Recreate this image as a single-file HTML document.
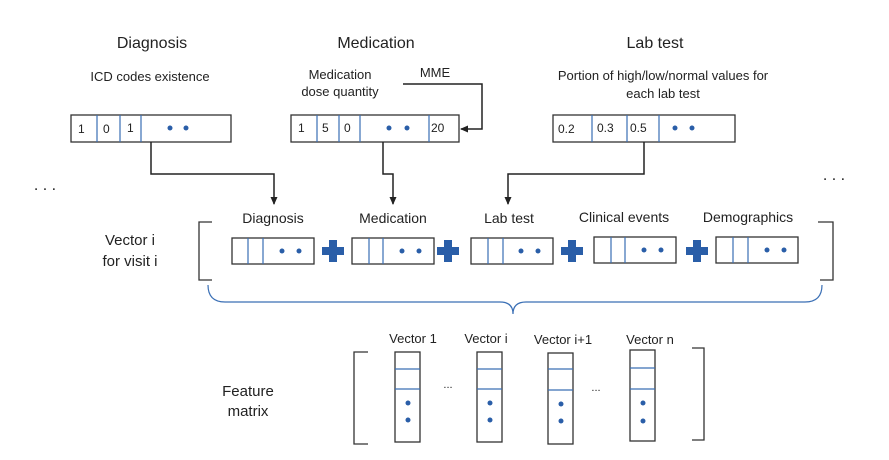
<!DOCTYPE html>
<html><head><meta charset="utf-8"><style>
body{margin:0;background:#fff}
svg{display:block;font-family:"Liberation Sans",sans-serif}
</style></head><body>
<svg width="889" height="460" viewBox="0 0 889 460">
<defs><marker id="a" markerWidth="8" markerHeight="8" refX="7" refY="4" orient="auto" markerUnits="userSpaceOnUse"><path d="M0,0.5 L8,4 L0,7.5z" fill="#222"/></marker></defs>
<g fill="#222" text-anchor="middle">
<text x="152" y="48" font-size="16">Diagnosis</text>
<text x="376" y="48" font-size="16">Medication</text>
<text x="655" y="48" font-size="16">Lab test</text>
<text x="150" y="81" font-size="13">ICD codes existence</text>
<text x="340" y="79" font-size="13">Medication</text>
<text x="340" y="96" font-size="13">dose quantity</text>
<text x="435" y="77" font-size="13">MME</text>
<text x="663" y="80" font-size="13">Portion of high/low/normal values for</text>
<text x="663" y="98" font-size="13">each lab test</text>
<text x="45" y="190" font-size="16">. . .</text>
<text x="834" y="180" font-size="16">. . .</text>
<text x="273" y="223" font-size="14">Diagnosis</text>
<text x="393" y="223" font-size="14">Medication</text>
<text x="509" y="223" font-size="14">Lab test</text>
<text x="624" y="222" font-size="14">Clinical events</text>
<text x="748" y="222" font-size="14">Demographics</text>
<text x="130" y="245" font-size="15">Vector i</text>
<text x="130" y="266" font-size="15">for visit i</text>
<text x="248" y="396" font-size="15">Feature</text>
<text x="248" y="416" font-size="15">matrix</text>
<text x="413" y="343" font-size="13">Vector 1</text>
<text x="486" y="343" font-size="13">Vector i</text>
<text x="563" y="344" font-size="13">Vector i+1</text>
<text x="650" y="344" font-size="13">Vector n</text>
<text x="448" y="388" font-size="11">...</text>
<text x="596" y="391" font-size="11">...</text>
</g>
<g font-size="12" fill="#222">
<text x="78" y="133">1</text><text x="103" y="133">0</text><text x="127" y="132">1</text>
<text x="298" y="132">1</text><text x="322" y="132">5</text><text x="344" y="132">0</text><text x="431" y="132">20</text>
<text x="558" y="133">0.2</text><text x="597" y="132">0.3</text><text x="630" y="132">0.5</text>
</g>
<g fill="none" stroke="#333" stroke-width="1.3">
<rect x="71" y="115" width="160" height="27"/>
<rect x="291" y="115" width="168" height="27"/>
<rect x="553" y="115" width="182" height="27"/>
<rect x="232" y="238" width="82" height="26"/>
<rect x="352" y="238" width="82" height="26"/>
<rect x="471" y="238" width="82" height="26"/>
<rect x="594" y="237" width="82" height="26"/>
<rect x="716" y="237" width="82" height="26"/>
<rect x="395" y="352" width="25" height="90"/>
<rect x="477" y="352" width="25" height="90"/>
<rect x="548" y="353" width="25" height="91"/>
<rect x="630" y="350" width="25" height="91"/>
<path d="M212,222 H199 V280 H212"/>
<path d="M818,222 H833 V280 H820"/>
<path d="M368,352 H354 V444 H368"/>
<path d="M692,348 H704 V440 H692"/>
</g>
<g fill="none" stroke="#222" stroke-width="1.5">
<path d="M151,142 V174 H274 V204" marker-end="url(#a)"/>
<path d="M383,142 V174 H393 V204" marker-end="url(#a)"/>
<path d="M644,142 V174 H508 V204" marker-end="url(#a)"/>
<path d="M403,84 H482 V129 H461" marker-end="url(#a)"/>
</g>
<g stroke="#3a6fb5" stroke-width="1.2">
<path d="M97,115V142M120,115V142M141,115V142"/>
<path d="M317,115V142M339,115V142M360,115V142M429,115V142"/>
<path d="M592,115V142M627,115V142M659,115V142"/>
<path d="M248,238V264M263,238V264M369,238V264M383,238V264M488,238V264M503,238V264M611,237V263M625,237V263M733,237V263M748,237V263"/>
<path d="M395,369H420M395,389H420M477,369H502M477,389H502M548,369H573M548,390H573M630,368H655M630,389H655"/>
<path d="M208,285 Q208,302 225,302 H500 Q513,302 513,314 Q513,302 526,302 H805 Q822,302 822,285" fill="none"/>
</g>
<g fill="#2a5ea8">
<circle cx="170" cy="128" r="2.5"/><circle cx="186" cy="128" r="2.5"/>
<circle cx="389" cy="128" r="2.5"/><circle cx="407" cy="128" r="2.5"/>
<circle cx="675" cy="128" r="2.5"/><circle cx="692" cy="128" r="2.5"/>
<circle cx="282" cy="251" r="2.5"/><circle cx="299" cy="251" r="2.5"/>
<circle cx="402" cy="251" r="2.5"/><circle cx="419" cy="251" r="2.5"/>
<circle cx="521" cy="251" r="2.5"/><circle cx="538" cy="251" r="2.5"/>
<circle cx="644" cy="250" r="2.5"/><circle cx="661" cy="250" r="2.5"/>
<circle cx="767" cy="250" r="2.5"/><circle cx="784" cy="250" r="2.5"/>
<circle cx="408" cy="403" r="2.5"/><circle cx="408" cy="420" r="2.5"/>
<circle cx="490" cy="403" r="2.5"/><circle cx="490" cy="420" r="2.5"/>
<circle cx="561" cy="404" r="2.5"/><circle cx="561" cy="421" r="2.5"/>
<circle cx="643" cy="403" r="2.5"/><circle cx="643" cy="421" r="2.5"/>
<path d="M329,240h8v7h7v8h-7v7h-8v-7h-7v-8h7z"/>
<path d="M444,240h8v7h7v8h-7v7h-8v-7h-7v-8h7z"/>
<path d="M568,240h8v7h7v8h-7v7h-8v-7h-7v-8h7z"/>
<path d="M693,240h8v7h7v8h-7v7h-8v-7h-7v-8h7z"/>
</g>
</svg>
</body></html>
